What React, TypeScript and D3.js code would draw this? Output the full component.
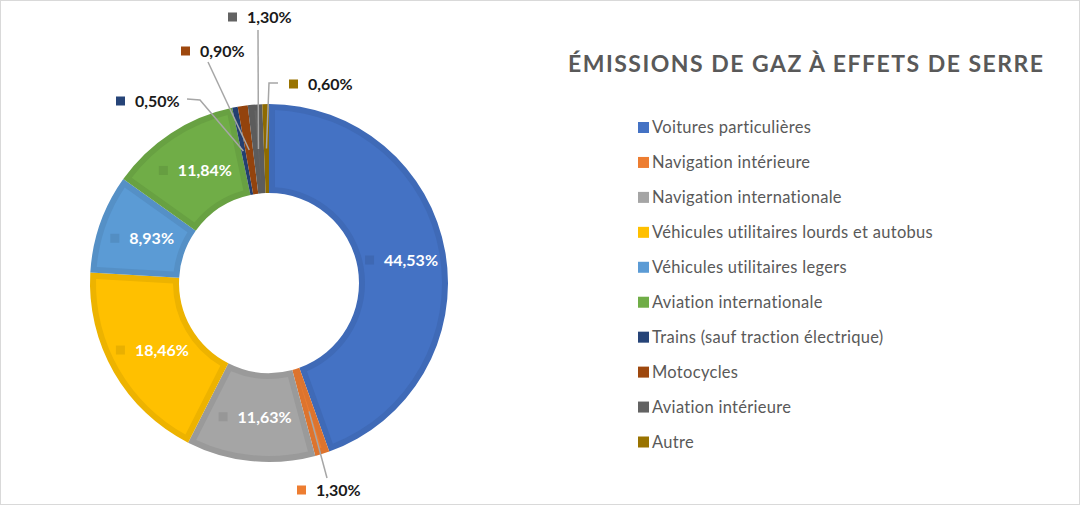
import * as React from 'react';
import * as d3 from 'd3';

// data (percent of emissions, clockwise from 12 o'clock)
const categories = [
  'Voitures particulières',
  'Navigation intérieure',
  'Navigation internationale',
  'Véhicules utilitaires lourds et autobus',
  'Véhicules utilitaires legers',
  'Aviation internationale',
  'Trains (sauf traction électrique)',
  'Motocycles',
  'Aviation intérieure',
  'Autre',
];
const values = [44.53, 1.3, 11.63, 18.46, 8.93, 11.84, 0.5, 0.9, 1.3, 0.6];
const labels = ['44,53%', '1,30%', '11,63%', '18,46%', '8,93%', '11,84%', '0,50%', '0,90%', '1,30%', '0,60%'];
const colors = ['#4472C4', '#ED7D31', '#A5A5A5', '#FFC000', '#5B9BD5', '#70AD47', '#264478', '#9E480E', '#636363', '#997300'];
const title = 'ÉMISSIONS DE GAZ À EFFETS DE SERRE';

// small slices get their label outside, placed relative to the donut centre
const outside = {
  1: { lx: 28, ly: 207, leader: [[58, 195]] },
  6: { lx: -153, ly: -182, leader: [[-82, -184], [-69, -183]] },
  7: { lx: -88, ly: -232, leader: [[-61, -221]] },
  8: { lx: -41, ly: -266, leader: [[-11, -253]] },
  9: { lx: 20, ly: -199, leader: [[9, -200], [0, -200]] },
};

const W = 1080;
const H = 506;
const FONT = 'Lato, "Open Sans", sans-serif';

const drawChart = (node) => {
  const svg = d3.select(node);
  svg.selectAll('*').remove();

  // frame
  svg.append('rect')
    .attr('x', 0.5).attr('y', 0.5)
    .attr('width', W - 1).attr('height', H - 2)
    .attr('fill', '#fff')
    .attr('stroke', '#d9d9d9');

  const cx = 269;
  const cy = 283;
  const outerR = 179;
  const innerR = 90;
  const band = 6;

  const pie = d3.pie<number>().sort(null).value(d => d);
  const arcs = pie(values);

  const arcOuter = d3.arc<any>().innerRadius(innerR).outerRadius(outerR);
  const arcInner = d3.arc<any>()
    .innerRadius(innerR + band)
    .outerRadius(outerR - band)
    .padRadius(outerR)
    .padAngle((band * 2) / outerR);
  const arcMid = d3.arc<any>().innerRadius(innerR).outerRadius(outerR);

  const g = svg.append('g').attr('transform', `translate(${cx},${cy})`);

  // slices: darker band with lighter inset
  g.selectAll('path.band')
    .data(arcs)
    .enter()
    .append('path')
    .attr('class', 'band')
    .attr('d', arcOuter)
    .attr('fill', (d, i) => d3.color(colors[i]).darker(0.2).toString());

  g.selectAll('path.face')
    .data(arcs)
    .enter()
    .append('path')
    .attr('class', 'face')
    .attr('d', arcInner)
    .attr('fill', (d, i) => colors[i]);

  // leader lines for outside labels
  arcs.forEach((a, i) => {
    const o = outside[i];
    if (!o) return;
    const c = arcMid.centroid(a);
    const pts = [...o.leader, c];
    g.append('path')
      .attr('d', d3.line()(pts as any))
      .attr('fill', 'none')
      .attr('stroke', '#a6a6a6')
      .attr('stroke-width', 1.5);
  });

  // data labels
  arcs.forEach((a, i) => {
    const o = outside[i];
    const lab = g.append('g');
    lab.append('rect')
      .attr('width', 9).attr('height', 9)
      .attr('y', -4.5)
      .attr('fill', o ? colors[i] : d3.color(colors[i]).darker(0.25).toString());
    const t = lab.append('text')
      .attr('x', 19)
      .attr('dy', '0.36em')
      .attr('font-family', FONT)
      .attr('font-weight', 700)
      .attr('font-size', 16)
      .attr('fill', o ? '#1a1a1a' : '#fff')
      .text(labels[i]);
    if (o) {
      lab.attr('transform', `translate(${o.lx},${o.ly})`);
    } else {
      const [x, y] = arcMid.centroid(a);
      const w = 19 + (t.node() as SVGTextElement).getComputedTextLength();
      lab.attr('transform', `translate(${x - w / 2},${y})`);
    }
  });

  // title
  svg.append('text')
    .attr('x', 568)
    .attr('y', 72)
    .attr('font-family', FONT)
    .attr('font-weight', 700)
    .attr('font-size', 23)
    .attr('fill', '#595959')
    .attr('textLength', 475)
    .attr('lengthAdjust', 'spacing')
    .text(title);

  // legend
  const legendY = d3.scalePoint<string>()
    .domain(categories)
    .range([127.5, 442]);

  const items = svg.append('g')
    .selectAll('g')
    .data(categories)
    .enter()
    .append('g')
    .attr('transform', d => `translate(638,${legendY(d)})`);

  items.append('rect')
    .attr('y', -5.5)
    .attr('width', 11).attr('height', 11)
    .attr('fill', (d, i) => colors[i]);

  items.append('text')
    .attr('x', 14)
    .attr('dy', '0.36em')
    .attr('font-family', FONT)
    .attr('font-size', 16.5)
    .attr('letter-spacing', 0.3)
    .attr('fill', '#595959')
    .text(d => d);
};

const App = () => {
  const ref = React.useRef<SVGSVGElement>(null);

  React.useEffect(() => {
    if (ref.current) drawChart(ref.current);
  }, []);

  return (
    <svg
      ref={ref}
      width={W}
      height={H}
      style={{
        position: 'absolute',
        left: 0,
        top: 0,
        background: '#fff',
        fontVariantLigatures: 'none',
      }}
    />
  );
};

export default App;
